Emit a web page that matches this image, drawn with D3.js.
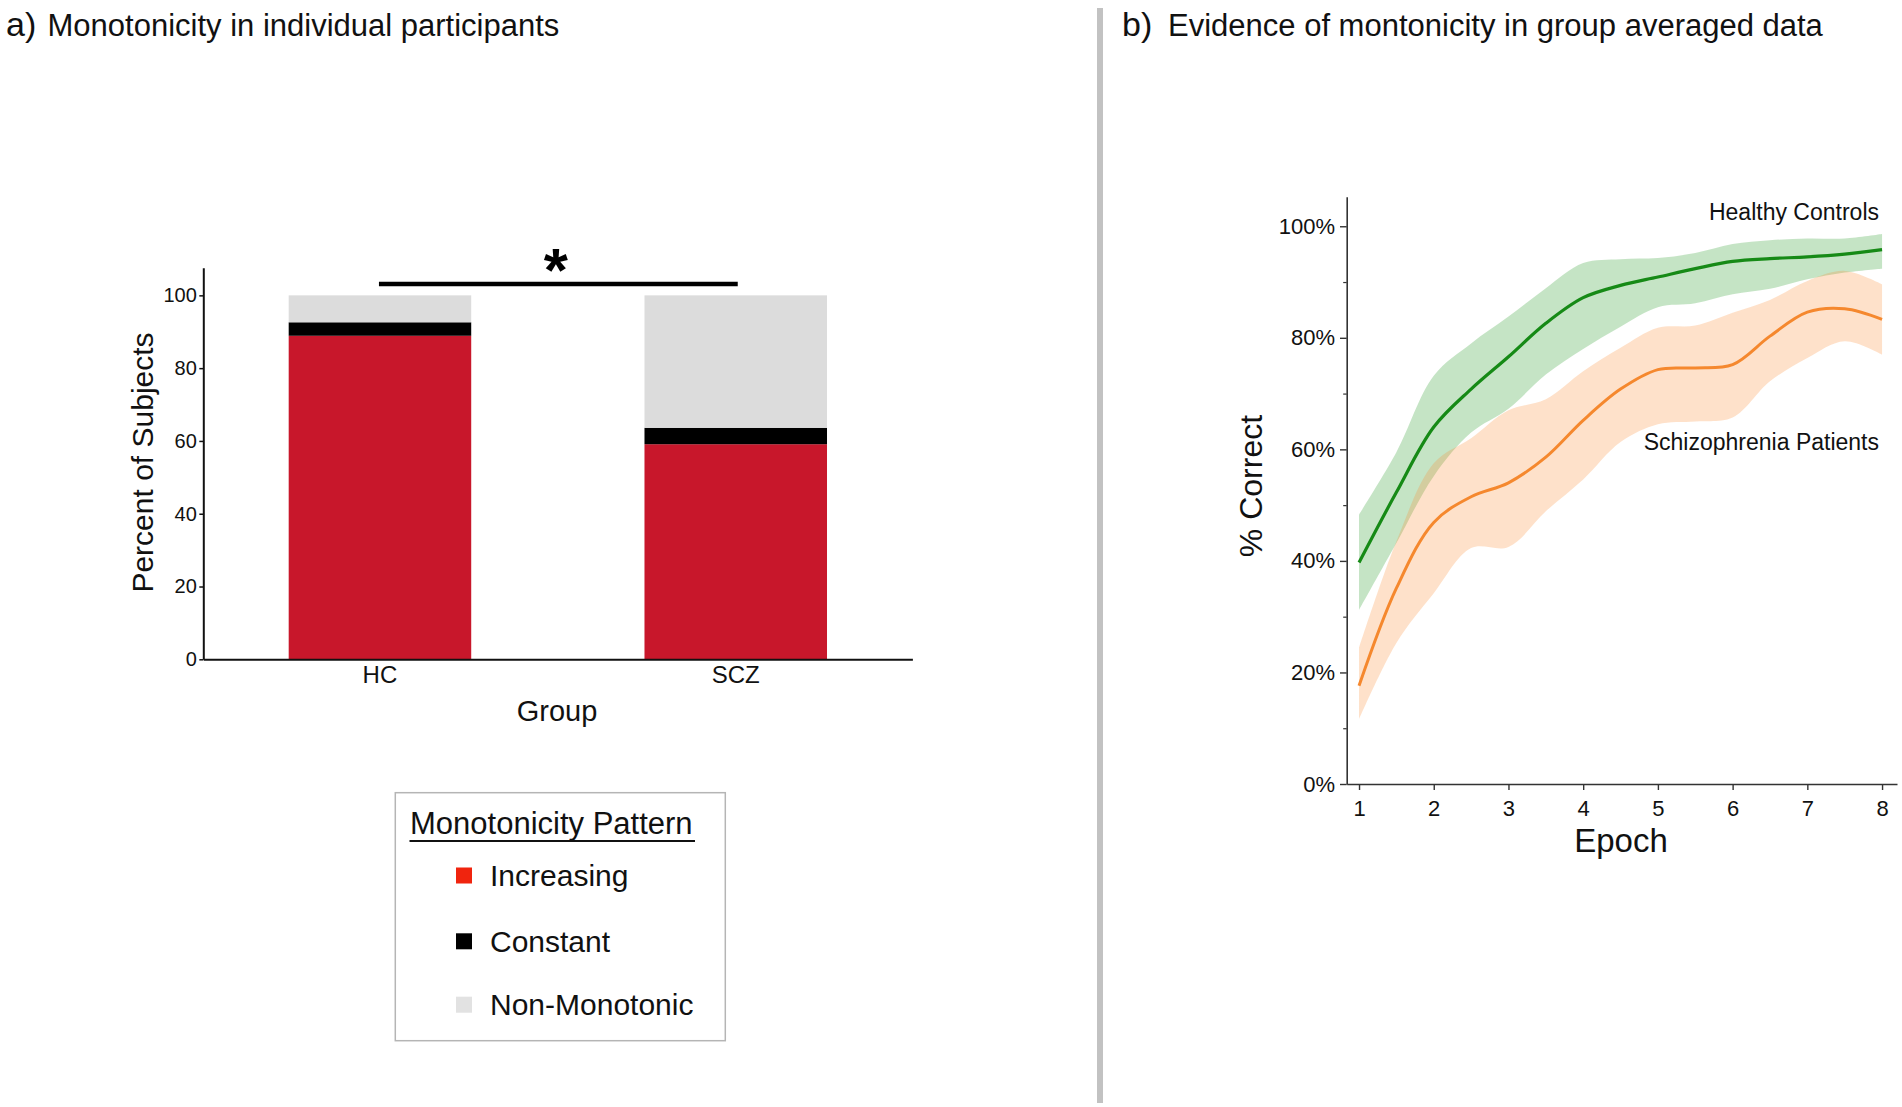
<!DOCTYPE html>
<html><head><meta charset="utf-8">
<script src="https://cdn.jsdelivr.net/npm/d3@7"></script>
<style>
html,body{margin:0;padding:0;background:#fff;}
svg{display:block;font-family:"Liberation Sans",Arial,Helvetica,sans-serif;}
</style></head><body>
<svg id="chart" width="1902" height="1107"></svg>
<script>
// ---------- Panel a data ----------
const groups = ["HC", "SCZ"];
const patterns = ["Increasing", "Constant", "Non-Monotonic"];
const increasing = [88.9, 59.1];
const constant = [3.7, 4.5];
const nonMonotonic = [7.4, 36.4];
const barTicks = [0, 20, 40, 60, 80, 100];

// ---------- Panel b data ----------
const epochs   = [1, 1.5, 2, 2.5, 3, 3.5, 4, 4.5, 5, 5.5, 6, 6.5, 7, 7.5, 8];
const hcMean   = [39.7, 52.3, 64.0, 70.8, 76.6, 82.6, 87.2, 89.4, 90.9, 92.4, 93.7, 94.2, 94.5, 95.0, 95.8];
const hcUpper  = [48.3, 59.5, 73.2, 79.0, 83.8, 88.9, 93.4, 94.1, 94.3, 95.2, 96.8, 97.5, 97.8, 97.8, 98.6];
const hcLower  = [31.2, 43.2, 55.2, 63.0, 67.3, 73.4, 78.0, 82.0, 85.5, 86.2, 87.8, 88.8, 90.5, 91.7, 92.4];
const sczMean  = [17.6, 35.1, 46.9, 51.5, 54.0, 58.6, 65.2, 70.8, 74.3, 74.6, 75.2, 80.3, 84.6, 85.2, 83.3];
const sczUpper = [24.4, 43.5, 57.5, 62.0, 67.0, 69.0, 74.0, 78.2, 81.8, 82.2, 84.5, 86.8, 90.2, 92.0, 89.6];
const sczLower = [11.6, 25.3, 34.2, 42.3, 42.5, 48.9, 54.6, 61.3, 64.5, 65.0, 65.7, 72.2, 76.4, 79.4, 77.0];
const pctTicks = [0, 20, 40, 60, 80, 100];
const pctMinorTicks = [10, 30, 50, 70, 90];
const epochTicks = [1, 2, 3, 4, 5, 6, 7, 8];

const svg = d3.select("#chart");

// ---------- Titles & separator ----------
svg.append("rect").attr("x", 1097).attr("y", 8).attr("width", 6).attr("height", 1095).attr("fill", "#c2c2c2");
svg.append("text").attr("x", 6).attr("y", 35.5).attr("font-size", 34).attr("fill", "#111").text("a)");
svg.append("text").attr("x", 47.5).attr("y", 35.5).attr("font-size", 31).attr("fill", "#111").text("Monotonicity in individual participants");
svg.append("text").attr("x", 1122).attr("y", 35.5).attr("font-size", 34).attr("fill", "#111").text("b)");
svg.append("text").attr("x", 1168).attr("y", 35.5).attr("font-size", 31).attr("fill", "#111").text("Evidence of montonicity in group averaged data");

// ---------- Panel a ----------
const yA = d3.scaleLinear().domain([0, 107.6]).range([659.3, 267.7]);
const xA = d3.scaleBand().domain(groups).range([203.3, 912.4]).paddingInner(0.487).paddingOuter(0.24);
const colorsA = {"Increasing": "#c8172b", "Constant": "#000000", "Non-Monotonic": "#dcdcdc"};
const legendColors = {"Increasing": "#f0240e", "Constant": "#000000", "Non-Monotonic": "#e2e2e2"};

const rows = groups.map((g, i) => ({group: g, "Increasing": increasing[i], "Constant": constant[i], "Non-Monotonic": nonMonotonic[i]}));
const stacked = d3.stack().keys(patterns)(rows);

const gA = svg.append("g");
gA.selectAll("g.layer").data(stacked).join("g").attr("class", "layer")
  .attr("fill", d => colorsA[d.key])
  .selectAll("rect").data(d => d).join("rect")
  .attr("x", d => xA(d.data.group))
  .attr("width", xA.bandwidth())
  .attr("y", d => yA(d[1]))
  .attr("height", d => yA(d[0]) - yA(d[1]));

const axYA = gA.append("g").attr("transform", "translate(203.3,0)")
  .call(d3.axisLeft(yA).tickValues(barTicks).tickSize(4).tickPadding(2.5).tickSizeOuter(0));
axYA.select(".domain").attr("stroke", "#111").attr("stroke-width", 2);
axYA.selectAll(".tick line").attr("stroke", "#111").attr("stroke-width", 1.5);
axYA.selectAll(".tick text").attr("font-size", 20).attr("fill", "#111").attr("font-family", null);

const axXA = gA.append("g").attr("transform", "translate(0,659.3)")
  .call(d3.axisBottom(xA).tickSize(0).tickPadding(7).tickSizeOuter(0));
axXA.select(".domain").attr("stroke", "#111").attr("stroke-width", 2);
axXA.selectAll(".tick text").attr("font-size", 24).attr("fill", "#111").attr("font-family", null);

gA.append("text").attr("transform", "translate(153,462.5) rotate(-90)").attr("text-anchor", "middle")
  .attr("font-size", 30).attr("fill", "#111").text("Percent of Subjects");
gA.append("text").attr("x", 557).attr("y", 721).attr("text-anchor", "middle")
  .attr("font-size", 29).attr("fill", "#111").text("Group");

// significance bracket
const c1 = xA("HC") + xA.bandwidth() / 2, c2 = xA("SCZ") + xA.bandwidth() / 2;
const sigY = yA(103.1);
gA.append("line").attr("x1", c1 - 1).attr("x2", c2 + 2).attr("y1", sigY).attr("y2", sigY)
  .attr("stroke", "#000").attr("stroke-width", 4.5);
gA.append("text").attr("x", (c1 + c2) / 2 - 2).attr("y", sigY + 7).attr("text-anchor", "middle")
  .attr("font-size", 62).attr("font-weight", "bold").attr("fill", "#000").text("*");

// legend
const lg = svg.append("g");
lg.append("rect").attr("x", 395.3).attr("y", 792.7).attr("width", 330).attr("height", 248)
  .attr("fill", "#fff").attr("stroke", "#b5b5b5").attr("stroke-width", 1.5);
lg.append("text").attr("x", 410).attr("y", 834.3).attr("font-size", 31).attr("fill", "#111").text("Monotonicity Pattern");
lg.append("line").attr("x1", 409.5).attr("x2", 695).attr("y1", 841).attr("y2", 841).attr("stroke", "#111").attr("stroke-width", 2);
const legendY = [875.5, 941.3, 1004.7];
patterns.forEach((p, i) => {
  lg.append("rect").attr("x", 456).attr("y", legendY[i] - 8).attr("width", 16).attr("height", 16).attr("fill", legendColors[p]);
  lg.append("text").attr("x", 490).attr("y", legendY[i] + 10.5).attr("font-size", 30).attr("fill", "#111").text(p);
});

// ---------- Panel b ----------
const xB = d3.scaleLinear().domain([0.835, 8.2]).range([1346.7, 1897]);
const yB = d3.scaleLinear().domain([0, 105.3]).range([784, 196.7]);
const gB = svg.append("g");

const hcData = epochs.map((e, i) => ({e, m: hcMean[i], lo: hcLower[i], hi: hcUpper[i]}));
const sczData = epochs.map((e, i) => ({e, m: sczMean[i], lo: sczLower[i], hi: sczUpper[i]}));
const area = d3.area().x(d => xB(d.e)).y0(d => yB(d.lo)).y1(d => yB(d.hi)).curve(d3.curveCatmullRom.alpha(0.5));
const line = d3.line().x(d => xB(d.e)).y(d => yB(d.m)).curve(d3.curveCatmullRom.alpha(0.5));

gB.append("path").datum(hcData).attr("d", area).attr("fill", "#2e9e2e").attr("fill-opacity", 0.28);
gB.append("path").datum(sczData).attr("d", area).attr("fill", "#fb8a32").attr("fill-opacity", 0.26);
gB.append("path").datum(hcData).attr("d", line).attr("fill", "none").attr("stroke", "#168a16").attr("stroke-width", 3.2);
gB.append("path").datum(sczData).attr("d", line).attr("fill", "none").attr("stroke", "#f5882e").attr("stroke-width", 3);

const axYB = gB.append("g").attr("transform", "translate(1346.7,0)")
  .call(d3.axisLeft(yB).tickValues(pctTicks).tickFormat(d => d + "%").tickSize(6.7).tickPadding(5).tickSizeOuter(0));
axYB.select(".domain").attr("stroke", "#333").attr("stroke-width", 1.6);
axYB.selectAll(".tick line").attr("stroke", "#333").attr("stroke-width", 1.4);
axYB.selectAll(".tick text").attr("font-size", 22).attr("fill", "#111").attr("font-family", null);
const axYBm = gB.append("g").attr("transform", "translate(1346.7,0)")
  .call(d3.axisLeft(yB).tickValues(pctMinorTicks).tickFormat("").tickSize(3.5).tickSizeOuter(0));
axYBm.select(".domain").remove();
axYBm.selectAll(".tick line").attr("stroke", "#333").attr("stroke-width", 1.2);

const axXB = gB.append("g").attr("transform", "translate(0,784)")
  .call(d3.axisBottom(xB).tickValues(epochTicks).tickFormat(d3.format("d")).tickSize(6).tickPadding(10).tickSizeOuter(0));
axXB.select(".domain").attr("stroke", "#333").attr("stroke-width", 1.6);
axXB.selectAll(".tick line").attr("stroke", "#333").attr("stroke-width", 1.4);
axXB.selectAll(".tick text").attr("font-size", 22).attr("fill", "#111").attr("font-family", null);

gB.append("text").attr("transform", "translate(1261.5,486) rotate(-90)").attr("text-anchor", "middle")
  .attr("font-size", 32).attr("fill", "#111").text("% Correct");
gB.append("text").attr("x", 1621).attr("y", 851.6).attr("text-anchor", "middle")
  .attr("font-size", 33).attr("fill", "#111").text("Epoch");
gB.append("text").attr("x", 1879).attr("y", 220).attr("text-anchor", "end")
  .attr("font-size", 23).attr("fill", "#111").text("Healthy Controls");
gB.append("text").attr("x", 1879).attr("y", 450).attr("text-anchor", "end")
  .attr("font-size", 23).attr("fill", "#111").text("Schizophrenia Patients");
</script>
</body></html>
